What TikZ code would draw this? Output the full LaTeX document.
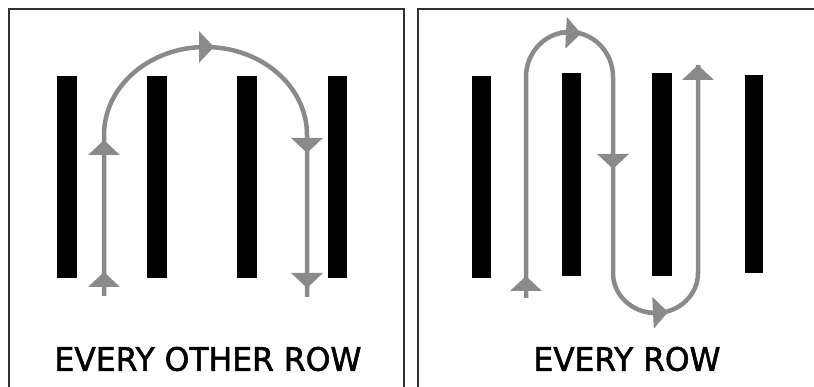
\documentclass[tikz,border=0pt]{standalone}
\usepackage{fontspec}
\setmainfont{DejaVu Sans}
\newfontfamily\capfont[FakeBold=1.6]{DejaVu Sans}
\usetikzlibrary{arrows.meta}
\definecolor{pathgray}{RGB}{138,138,138}
\definecolor{framegray}{RGB}{50,50,50}
\tikzset{
  bar/.style={fill=black, draw=none},
  frame/.style={draw=framegray, line width=2pt},
  route/.style={draw=pathgray, line width=4.5pt},
  tip/.style={draw=pathgray, line width=4.5pt, -{Triangle[width=31pt,length=15pt,fill=pathgray]}},
  caption/.style={inner sep=0pt, anchor=center, font=\capfont}
}
\begin{document}
\begin{tikzpicture}[x=1pt, y=-1pt]
\useasboundingbox (0,0) rectangle (814,387);
\fill[white] (0,0) rectangle (814,387);

% panel frames, open at the bottom
\draw[frame] (9,390) -- (9,9) -- (404,9) -- (404,390);
\draw[frame] (418,390) -- (418,9) -- (816,9);

% ---- left panel: every other row ----
\fill[bar] (57,76) rectangle (77,278);
\fill[bar] (147,76) rectangle (167,278);
\fill[bar] (237,76) rectangle (257,278);
\fill[bar] (328,76) rectangle (347,278);

\coordinate (aStart) at (104,296);
\coordinate (aUp) at (104,135);
\coordinate (aEnd) at (307,297);
% y axis points down, so 180 -> 360 sweeps over the top
\draw[route] (aStart) -- (aUp) arc[start angle=180, end angle=360, x radius=101.5, y radius=88] -- (aEnd);
\draw[tip] (104,292) -- (104,272);
\draw[tip] (104,160) -- (104,140);
\draw[tip] (196,47) -- (214,47);
\draw[tip] (307,132) -- (307,153);
\draw[tip] (307,266) -- (307,288);

\node[caption] (capA) at (208,359) {\resizebox{307pt}{24pt}{EVERY OTHER ROW}};

% ---- right panel: every row ----
\fill[bar] (472,76) rectangle (491,278);
\fill[bar] (562,73) rectangle (581,276);
\fill[bar] (652,73) rectangle (672,276);
\fill[bar] (745,75) rectangle (763,273);

\coordinate (bStart) at (526,298);
\coordinate (bTop) at (526,77);
\coordinate (bMid) at (613,273);
\coordinate (bEnd) at (698,65);
\draw[route] (bStart) -- (bTop)
  arc[start angle=180, end angle=360, x radius=43.5, y radius=45] -- (bMid)
  arc[start angle=180, end angle=0, x radius=42.5, y radius=40] -- (bEnd);
\draw[tip] (526,295) -- (526,276);
\draw[tip] (560,32.5) -- (581,33.5);
\draw[tip] (613,150) -- (613,169);
\draw[tip] (648,313) -- (668,312);
\draw[tip] (698,100) -- (698,65);

\node[caption] (capB) at (627,359) {\resizebox{187pt}{24pt}{EVERY ROW}};
\end{tikzpicture}
\end{document}
